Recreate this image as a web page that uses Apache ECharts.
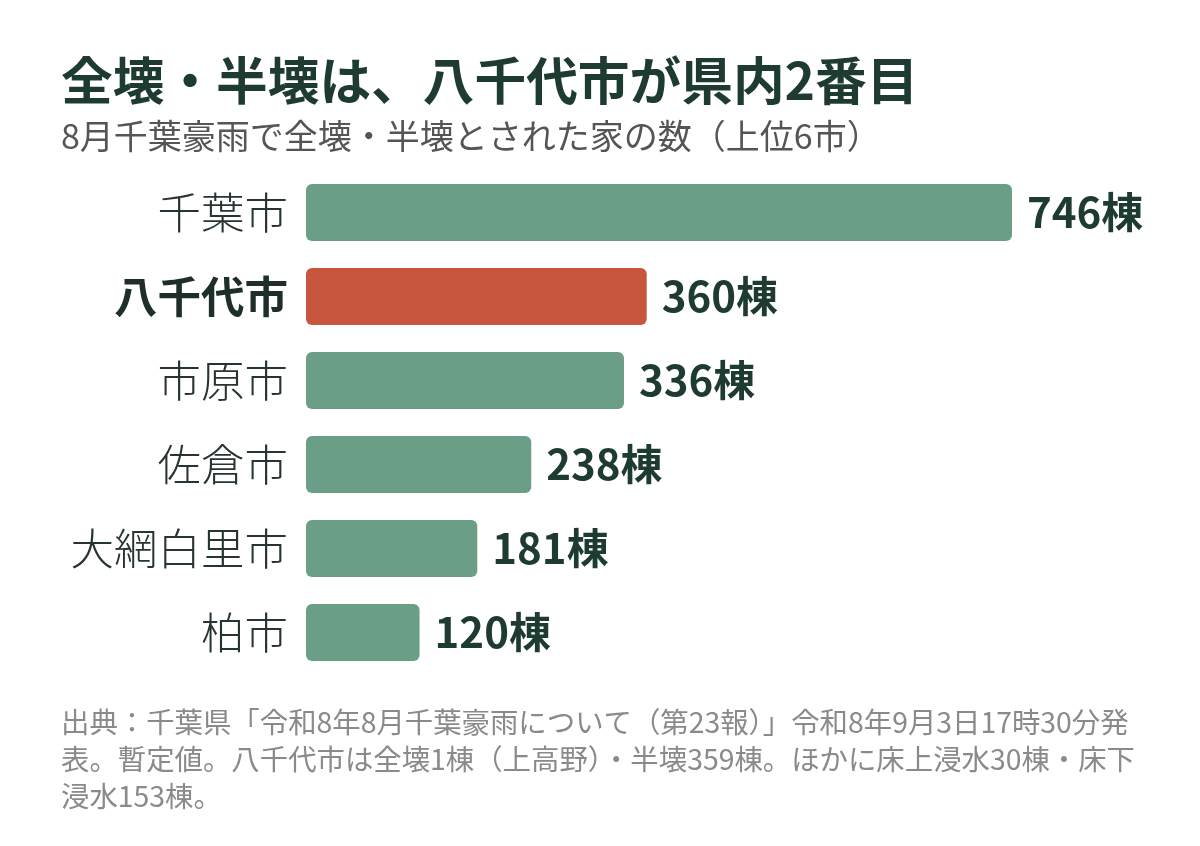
<!DOCTYPE html>
<html><head><meta charset="utf-8">
<script src="https://cdn.jsdelivr.net/npm/echarts@6/dist/echarts.min.js"></script>
<style>html,body{margin:0;padding:0;background:#fff}#c{width:1200px;height:846px}</style>
</head><body><div id="c"></div>
<script>
const categories = ['千葉市','八千代市','市原市','佐倉市','大網白里市','柏市'];
const values = [746, 360, 336, 238, 181, 120];
const highlight = '八千代市';
const unit = '棟';
const titleText = '全壊・半壊は、八千代市が県内2番目';
const subtitleText = '8月千葉豪雨で全壊・半壊とされた家の数（上位6市）';
const footLines = [
  '出典：千葉県「令和8年8月千葉豪雨について（第23報）」令和8年9月3日17時30分発',
  '表。暫定値。八千代市は全壊1棟（上高野）・半壊359棟。ほかに床上浸水30棟・床下',
  '浸水153棟。'
];
const FONT = '"Noto Sans CJK JP", "Noto Sans", sans-serif';
const chart = echarts.init(document.getElementById('c'));
chart.setOption({
  backgroundColor: '#fff',
  animation: false,
  title: [
    {text: titleText, left: 56, top: 50, textStyle: {fontFamily: FONT, fontSize: 51.7, fontWeight: 'bold', color: '#1e3b31'}},
    {text: subtitleText, left: 56, top: 114, textStyle: {fontFamily: FONT, fontSize: 34, fontWeight: 'normal', color: '#555'}}
  ],
  graphic: footLines.map((t, i) => ({
    type: 'text', left: 61, top: 708 + i * 37,
    style: {text: t, fontFamily: FONT, fontSize: 28.4, fill: '#8a8a8a'}
  })),
  grid: {left: 306, right: 188, top: 170.5, bottom: 171.5, containLabel: false},
  xAxis: {type: 'value', min: 0, max: 746, show: false},
  yAxis: {
    type: 'category', inverse: true, data: categories,
    axisLine: {show: false}, axisTick: {show: false},
    axisLabel: {
      margin: 18, fontFamily: FONT, fontSize: 43.5, fontWeight: 300, color: '#26352e',
      formatter: v => v === highlight ? '{b|' + v + '}' : v,
      rich: {b: {fontFamily: FONT, fontSize: 43.5, fontWeight: 'bold', color: '#1e2f28'}}
    }
  },
  series: [{
    type: 'bar',
    barWidth: 57,
    data: values.map((v, i) => ({
      value: v,
      itemStyle: {color: categories[i] === highlight ? '#c8553d' : '#6b9e86', borderRadius: 6}
    })),
    label: {
      show: true, position: 'right', distance: 15,
      formatter: p => p.value + unit,
      fontFamily: FONT, fontSize: 42, fontWeight: 'bold', color: '#1e3b31'
    }
  }]
});
</script></body></html>
